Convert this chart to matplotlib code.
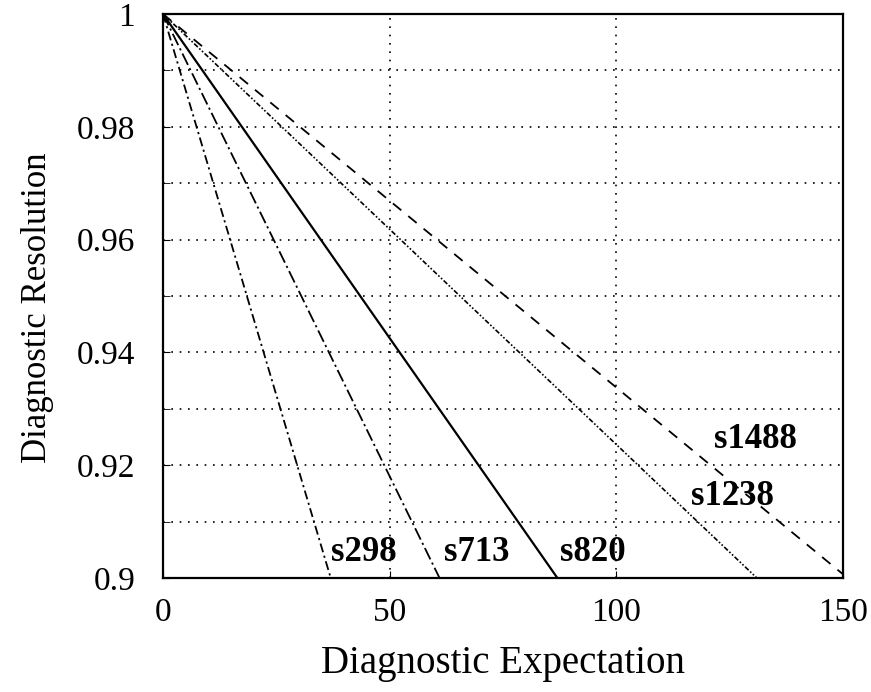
import numpy as np
import matplotlib.pyplot as plt

plt.rcParams['font.family'] = ['Liberation Serif', 'DejaVu Serif']

# circuits and the diagnostic expectation where resolution falls to 0.9
circuits = ['s298', 's713', 's820', 's1238', 's1488']
x_at_09 = [37, 61, 87, 131, 151]
styles = [(0, (5, 2, 1.2, 2)), (0, (7, 2, 1.2, 2)), '-', (0, (3, 1.2, 1, 1.2, 1, 1.2)), (0, (6, 5))]
widths = [1.3, 1.3, 1.6, 1.2, 1.3]

# label positions (x, y) in data units
label_x = [37, 62, 87.5, 116.5, 121.5]
label_y = [0.9045, 0.9045, 0.9045, 0.9145, 0.9245]

fig = plt.figure(figsize=(8.71, 6.92), dpi=100)
ax = fig.add_axes([163/871, 1 - 578/692, 680/871, 564/692])

for name, xe, ls, lw in zip(circuits, x_at_09, styles, widths):
    xs = np.array([0, xe])
    ys = np.array([1.0, 0.9])
    ax.plot(xs, ys, color='black', linestyle=ls, linewidth=lw)

for name, lx, ly in zip(circuits, label_x, label_y):
    ax.text(lx, ly, name, fontsize=25, fontweight='bold', ha='left', va='center')

ax.set_xlim(0, 150)
ax.set_ylim(0.9, 1.0)
ax.set_xticks([0, 50, 100, 150])
ax.set_xticklabels(['0', '50', '100', '150'])
ax.set_yticks([0.9, 0.92, 0.94, 0.96, 0.98, 1.0])
ax.set_yticklabels(['0.9', '0.92', '0.94', '0.96', '0.98', '1'])
ax.set_yticks(np.arange(0.91, 1.0, 0.02), minor=True)

for y in np.arange(0.91, 0.995, 0.01):
    ax.axhline(y, color='black', linestyle=(0, (1, 4)), linewidth=1.2)
for x in [50, 100]:
    ax.axvline(x, color='black', linestyle=(0, (1, 4)), linewidth=1.2)

ax.tick_params(which='both', direction='in', length=5, labelsize=24)
ax.tick_params(axis='y', pad=20)
ax.tick_params(axis='x', pad=14)
for s in ax.spines.values():
    s.set_linewidth(1.6)

ax.set_xlabel('Diagnostic Expectation', fontsize=28, labelpad=12)
ax.set_ylabel('Diagnostic Resolution', fontsize=25)
ax.yaxis.set_label_coords(-0.16, 0.48)

plt.savefig('out.png', dpi=100)
